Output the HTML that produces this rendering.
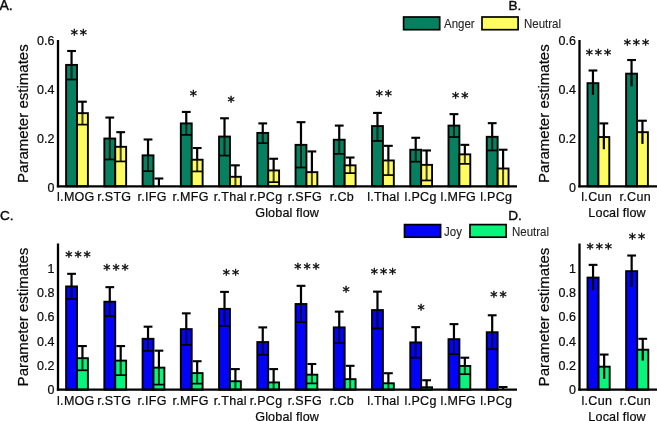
<!DOCTYPE html>
<html><head><meta charset="utf-8"><title>Parameter estimates</title>
<style>
html,body{margin:0;padding:0;background:#fff;}
svg{display:block;will-change:transform}
text{fill:#0a0a0a;stroke:#0a0a0a;stroke-width:0.22px}
</style></head>
<body>
<svg width="657" height="421" viewBox="0 0 657 421">
<rect x="0" y="0" width="657" height="421" fill="#fff"/>
<rect x="66.10" y="64.89" width="10.90" height="121.41" fill="#06805f" stroke="#000" stroke-width="1.9"/>
<line x1="71.55" y1="50.99" x2="71.55" y2="64.89" stroke="#000" stroke-width="2.2" />
<line x1="71.55" y1="64.89" x2="71.55" y2="79.52" stroke="rgba(0,0,0,0.75)" stroke-width="2" />
<line x1="67.15" y1="50.99" x2="75.95" y2="50.99" stroke="#000" stroke-width="2.1" />
<line x1="66.10" y1="79.52" x2="77.00" y2="79.52" stroke="#000" stroke-width="1.7" />
<rect x="77.00" y="113.16" width="10.90" height="73.14" fill="#fffc62" stroke="#000" stroke-width="1.9"/>
<line x1="82.45" y1="101.70" x2="82.45" y2="113.16" stroke="#000" stroke-width="2.2" />
<line x1="82.45" y1="113.16" x2="82.45" y2="124.62" stroke="rgba(0,0,0,0.75)" stroke-width="2" />
<line x1="78.05" y1="101.70" x2="86.85" y2="101.70" stroke="#000" stroke-width="2.1" />
<line x1="77.00" y1="124.62" x2="87.90" y2="124.62" stroke="#000" stroke-width="1.7" />
<rect x="104.34" y="138.52" width="10.90" height="47.78" fill="#06805f" stroke="#000" stroke-width="1.9"/>
<line x1="109.79" y1="117.55" x2="109.79" y2="138.52" stroke="#000" stroke-width="2.2" />
<line x1="109.79" y1="138.52" x2="109.79" y2="159.48" stroke="rgba(0,0,0,0.75)" stroke-width="2" />
<line x1="105.39" y1="117.55" x2="114.19" y2="117.55" stroke="#000" stroke-width="2.1" />
<line x1="104.34" y1="159.48" x2="115.24" y2="159.48" stroke="#000" stroke-width="1.7" />
<rect x="115.24" y="146.80" width="10.90" height="39.50" fill="#fffc62" stroke="#000" stroke-width="1.9"/>
<line x1="120.69" y1="132.18" x2="120.69" y2="146.80" stroke="#000" stroke-width="2.2" />
<line x1="120.69" y1="146.80" x2="120.69" y2="161.43" stroke="rgba(0,0,0,0.75)" stroke-width="2" />
<line x1="116.29" y1="132.18" x2="125.09" y2="132.18" stroke="#000" stroke-width="2.1" />
<line x1="115.24" y1="161.43" x2="126.14" y2="161.43" stroke="#000" stroke-width="1.7" />
<rect x="142.58" y="155.34" width="10.90" height="30.96" fill="#06805f" stroke="#000" stroke-width="1.9"/>
<line x1="148.03" y1="139.49" x2="148.03" y2="155.34" stroke="#000" stroke-width="2.2" />
<line x1="148.03" y1="155.34" x2="148.03" y2="171.18" stroke="rgba(0,0,0,0.75)" stroke-width="2" />
<line x1="143.63" y1="139.49" x2="152.43" y2="139.49" stroke="#000" stroke-width="2.1" />
<line x1="142.58" y1="171.18" x2="153.48" y2="171.18" stroke="#000" stroke-width="1.7" />
<line x1="158.93" y1="178.50" x2="158.93" y2="186.30" stroke="#000" stroke-width="2.2" />
<line x1="154.53" y1="178.50" x2="163.33" y2="178.50" stroke="#000" stroke-width="2.1" />
<rect x="180.82" y="123.40" width="10.90" height="62.90" fill="#06805f" stroke="#000" stroke-width="1.9"/>
<line x1="186.27" y1="111.94" x2="186.27" y2="123.40" stroke="#000" stroke-width="2.2" />
<line x1="186.27" y1="123.40" x2="186.27" y2="134.86" stroke="rgba(0,0,0,0.75)" stroke-width="2" />
<line x1="181.87" y1="111.94" x2="190.67" y2="111.94" stroke="#000" stroke-width="2.1" />
<line x1="180.82" y1="134.86" x2="191.72" y2="134.86" stroke="#000" stroke-width="1.7" />
<rect x="191.72" y="159.73" width="10.90" height="26.57" fill="#fffc62" stroke="#000" stroke-width="1.9"/>
<line x1="197.17" y1="148.02" x2="197.17" y2="159.73" stroke="#000" stroke-width="2.2" />
<line x1="197.17" y1="159.73" x2="197.17" y2="171.43" stroke="rgba(0,0,0,0.75)" stroke-width="2" />
<line x1="192.77" y1="148.02" x2="201.57" y2="148.02" stroke="#000" stroke-width="2.1" />
<line x1="191.72" y1="171.43" x2="202.62" y2="171.43" stroke="#000" stroke-width="1.7" />
<rect x="219.06" y="136.56" width="10.90" height="49.74" fill="#06805f" stroke="#000" stroke-width="1.9"/>
<line x1="224.51" y1="118.28" x2="224.51" y2="136.56" stroke="#000" stroke-width="2.2" />
<line x1="224.51" y1="136.56" x2="224.51" y2="155.58" stroke="rgba(0,0,0,0.75)" stroke-width="2" />
<line x1="220.11" y1="118.28" x2="228.91" y2="118.28" stroke="#000" stroke-width="2.1" />
<line x1="219.06" y1="155.58" x2="229.96" y2="155.58" stroke="#000" stroke-width="1.7" />
<rect x="229.96" y="176.79" width="10.90" height="9.51" fill="#fffc62" stroke="#000" stroke-width="1.9"/>
<line x1="235.41" y1="165.33" x2="235.41" y2="176.79" stroke="#000" stroke-width="2.2" />
<line x1="235.41" y1="176.79" x2="235.41" y2="186.30" stroke="rgba(0,0,0,0.75)" stroke-width="2" />
<line x1="231.01" y1="165.33" x2="239.81" y2="165.33" stroke="#000" stroke-width="2.1" />
<rect x="257.30" y="132.91" width="10.90" height="53.39" fill="#06805f" stroke="#000" stroke-width="1.9"/>
<line x1="262.75" y1="123.40" x2="262.75" y2="132.91" stroke="#000" stroke-width="2.2" />
<line x1="262.75" y1="132.91" x2="262.75" y2="143.15" stroke="rgba(0,0,0,0.75)" stroke-width="2" />
<line x1="258.35" y1="123.40" x2="267.15" y2="123.40" stroke="#000" stroke-width="2.1" />
<line x1="257.30" y1="143.15" x2="268.20" y2="143.15" stroke="#000" stroke-width="1.7" />
<rect x="268.20" y="170.45" width="10.90" height="15.85" fill="#fffc62" stroke="#000" stroke-width="1.9"/>
<line x1="273.65" y1="158.75" x2="273.65" y2="170.45" stroke="#000" stroke-width="2.2" />
<line x1="273.65" y1="170.45" x2="273.65" y2="182.16" stroke="rgba(0,0,0,0.75)" stroke-width="2" />
<line x1="269.25" y1="158.75" x2="278.05" y2="158.75" stroke="#000" stroke-width="2.1" />
<line x1="268.20" y1="182.16" x2="279.10" y2="182.16" stroke="#000" stroke-width="1.7" />
<rect x="295.54" y="144.85" width="10.90" height="41.45" fill="#06805f" stroke="#000" stroke-width="1.9"/>
<line x1="300.99" y1="122.18" x2="300.99" y2="144.85" stroke="#000" stroke-width="2.2" />
<line x1="300.99" y1="144.85" x2="300.99" y2="167.53" stroke="rgba(0,0,0,0.75)" stroke-width="2" />
<line x1="296.59" y1="122.18" x2="305.39" y2="122.18" stroke="#000" stroke-width="2.1" />
<line x1="295.54" y1="167.53" x2="306.44" y2="167.53" stroke="#000" stroke-width="1.7" />
<rect x="306.44" y="172.16" width="10.90" height="14.14" fill="#fffc62" stroke="#000" stroke-width="1.9"/>
<line x1="311.89" y1="151.44" x2="311.89" y2="172.16" stroke="#000" stroke-width="2.2" />
<line x1="311.89" y1="172.16" x2="311.89" y2="186.30" stroke="rgba(0,0,0,0.75)" stroke-width="2" />
<line x1="307.49" y1="151.44" x2="316.29" y2="151.44" stroke="#000" stroke-width="2.1" />
<rect x="333.78" y="139.73" width="10.90" height="46.57" fill="#06805f" stroke="#000" stroke-width="1.9"/>
<line x1="339.23" y1="125.59" x2="339.23" y2="139.73" stroke="#000" stroke-width="2.2" />
<line x1="339.23" y1="139.73" x2="339.23" y2="153.87" stroke="rgba(0,0,0,0.75)" stroke-width="2" />
<line x1="334.83" y1="125.59" x2="343.63" y2="125.59" stroke="#000" stroke-width="2.1" />
<line x1="333.78" y1="153.87" x2="344.68" y2="153.87" stroke="#000" stroke-width="1.7" />
<rect x="344.68" y="165.33" width="10.90" height="20.97" fill="#fffc62" stroke="#000" stroke-width="1.9"/>
<line x1="350.13" y1="157.53" x2="350.13" y2="165.33" stroke="#000" stroke-width="2.2" />
<line x1="350.13" y1="165.33" x2="350.13" y2="173.13" stroke="rgba(0,0,0,0.75)" stroke-width="2" />
<line x1="345.73" y1="157.53" x2="354.53" y2="157.53" stroke="#000" stroke-width="2.1" />
<line x1="344.68" y1="173.13" x2="355.58" y2="173.13" stroke="#000" stroke-width="1.7" />
<rect x="372.02" y="126.08" width="10.90" height="60.22" fill="#06805f" stroke="#000" stroke-width="1.9"/>
<line x1="377.47" y1="112.92" x2="377.47" y2="126.08" stroke="#000" stroke-width="2.2" />
<line x1="377.47" y1="126.08" x2="377.47" y2="140.95" stroke="rgba(0,0,0,0.75)" stroke-width="2" />
<line x1="373.07" y1="112.92" x2="381.87" y2="112.92" stroke="#000" stroke-width="2.1" />
<line x1="372.02" y1="140.95" x2="382.92" y2="140.95" stroke="#000" stroke-width="1.7" />
<rect x="382.92" y="160.46" width="10.90" height="25.84" fill="#fffc62" stroke="#000" stroke-width="1.9"/>
<line x1="388.37" y1="145.83" x2="388.37" y2="160.46" stroke="#000" stroke-width="2.2" />
<line x1="388.37" y1="160.46" x2="388.37" y2="175.09" stroke="rgba(0,0,0,0.75)" stroke-width="2" />
<line x1="383.97" y1="145.83" x2="392.77" y2="145.83" stroke="#000" stroke-width="2.1" />
<line x1="382.92" y1="175.09" x2="393.82" y2="175.09" stroke="#000" stroke-width="1.7" />
<rect x="410.26" y="149.73" width="10.90" height="36.57" fill="#06805f" stroke="#000" stroke-width="1.9"/>
<line x1="415.71" y1="137.78" x2="415.71" y2="149.73" stroke="#000" stroke-width="2.2" />
<line x1="415.71" y1="149.73" x2="415.71" y2="161.68" stroke="rgba(0,0,0,0.75)" stroke-width="2" />
<line x1="411.31" y1="137.78" x2="420.11" y2="137.78" stroke="#000" stroke-width="2.1" />
<line x1="410.26" y1="161.68" x2="421.16" y2="161.68" stroke="#000" stroke-width="1.7" />
<rect x="421.16" y="164.85" width="10.90" height="21.45" fill="#fffc62" stroke="#000" stroke-width="1.9"/>
<line x1="426.61" y1="150.46" x2="426.61" y2="164.85" stroke="#000" stroke-width="2.2" />
<line x1="426.61" y1="164.85" x2="426.61" y2="180.45" stroke="rgba(0,0,0,0.75)" stroke-width="2" />
<line x1="422.21" y1="150.46" x2="431.01" y2="150.46" stroke="#000" stroke-width="2.1" />
<line x1="421.16" y1="180.45" x2="432.06" y2="180.45" stroke="#000" stroke-width="1.7" />
<rect x="448.50" y="125.59" width="10.90" height="60.71" fill="#06805f" stroke="#000" stroke-width="1.9"/>
<line x1="453.95" y1="114.14" x2="453.95" y2="125.59" stroke="#000" stroke-width="2.2" />
<line x1="453.95" y1="125.59" x2="453.95" y2="137.05" stroke="rgba(0,0,0,0.75)" stroke-width="2" />
<line x1="449.55" y1="114.14" x2="458.35" y2="114.14" stroke="#000" stroke-width="2.1" />
<line x1="448.50" y1="137.05" x2="459.40" y2="137.05" stroke="#000" stroke-width="1.7" />
<rect x="459.40" y="154.36" width="10.90" height="31.94" fill="#fffc62" stroke="#000" stroke-width="1.9"/>
<line x1="464.85" y1="144.85" x2="464.85" y2="154.36" stroke="#000" stroke-width="2.2" />
<line x1="464.85" y1="154.36" x2="464.85" y2="163.87" stroke="rgba(0,0,0,0.75)" stroke-width="2" />
<line x1="460.45" y1="144.85" x2="469.25" y2="144.85" stroke="#000" stroke-width="2.1" />
<line x1="459.40" y1="163.87" x2="470.30" y2="163.87" stroke="#000" stroke-width="1.7" />
<rect x="486.74" y="136.81" width="10.90" height="49.49" fill="#06805f" stroke="#000" stroke-width="1.9"/>
<line x1="492.19" y1="123.16" x2="492.19" y2="136.81" stroke="#000" stroke-width="2.2" />
<line x1="492.19" y1="136.81" x2="492.19" y2="150.46" stroke="rgba(0,0,0,0.75)" stroke-width="2" />
<line x1="487.79" y1="123.16" x2="496.59" y2="123.16" stroke="#000" stroke-width="2.1" />
<line x1="486.74" y1="150.46" x2="497.64" y2="150.46" stroke="#000" stroke-width="1.7" />
<rect x="497.64" y="168.50" width="10.90" height="17.80" fill="#fffc62" stroke="#000" stroke-width="1.9"/>
<line x1="503.09" y1="149.73" x2="503.09" y2="168.50" stroke="#000" stroke-width="2.2" />
<line x1="503.09" y1="168.50" x2="503.09" y2="186.30" stroke="rgba(0,0,0,0.75)" stroke-width="2" />
<line x1="498.69" y1="149.73" x2="507.49" y2="149.73" stroke="#000" stroke-width="2.1" />
<line x1="58.00" y1="40.00" x2="58.00" y2="187.30" stroke="#000" stroke-width="2.3" />
<line x1="56.85" y1="186.30" x2="517.00" y2="186.30" stroke="#000" stroke-width="2.3" />
<text x="54.50" y="45.22" font-size="12.5" text-anchor="end" font-family='"Liberation Sans", sans-serif' >0.6</text>
<text x="54.50" y="93.98" font-size="12.5" text-anchor="end" font-family='"Liberation Sans", sans-serif' >0.4</text>
<text x="54.50" y="142.74" font-size="12.5" text-anchor="end" font-family='"Liberation Sans", sans-serif' >0.2</text>
<text x="54.50" y="191.50" font-size="12.5" text-anchor="end" font-family='"Liberation Sans", sans-serif' >0</text>
<text x="75.85" y="201.10" font-size="12.5" text-anchor="middle" font-family='"Liberation Sans", sans-serif' letter-spacing="0.3">l.MOG</text>
<text x="114.29" y="201.10" font-size="12.5" text-anchor="middle" font-family='"Liberation Sans", sans-serif' letter-spacing="0.3">r.STG</text>
<text x="152.13" y="201.10" font-size="12.5" text-anchor="middle" font-family='"Liberation Sans", sans-serif' letter-spacing="0.3">r.IFG</text>
<text x="190.57" y="201.10" font-size="12.5" text-anchor="middle" font-family='"Liberation Sans", sans-serif' letter-spacing="0.3">r.MFG</text>
<text x="230.31" y="201.10" font-size="12.5" text-anchor="middle" font-family='"Liberation Sans", sans-serif' letter-spacing="0.3">r.Thal</text>
<text x="266.05" y="201.10" font-size="12.5" text-anchor="middle" font-family='"Liberation Sans", sans-serif' letter-spacing="0.3">r.PCg</text>
<text x="304.89" y="201.10" font-size="12.5" text-anchor="middle" font-family='"Liberation Sans", sans-serif' letter-spacing="0.3">r.SFG</text>
<text x="341.93" y="201.10" font-size="12.5" text-anchor="middle" font-family='"Liberation Sans", sans-serif' letter-spacing="0.3">r.Cb</text>
<text x="383.37" y="201.10" font-size="12.5" text-anchor="middle" font-family='"Liberation Sans", sans-serif' letter-spacing="0.3">l.Thal</text>
<text x="420.61" y="201.10" font-size="12.5" text-anchor="middle" font-family='"Liberation Sans", sans-serif' letter-spacing="0.3">l.PCg</text>
<text x="458.35" y="201.10" font-size="12.5" text-anchor="middle" font-family='"Liberation Sans", sans-serif' letter-spacing="0.3">l.MFG</text>
<text x="496.29" y="201.10" font-size="12.5" text-anchor="middle" font-family='"Liberation Sans", sans-serif' letter-spacing="0.3">l.PCg</text>
<text transform="translate(28.00,113.60) rotate(-90)" font-size="15.04" text-anchor="middle" font-family='"Liberation Sans", sans-serif'>Parameter estimates</text>
<text x="287.17" y="217.30" font-size="12.6" text-anchor="middle" font-family='"Liberation Sans", sans-serif' letter-spacing="0.14">Global flow</text>
<text x="79.77" y="39.30" font-size="14.4" text-anchor="middle" font-family='"DejaVu Sans", sans-serif' letter-spacing="1.93" style="stroke-width:0.45px">**</text>
<text x="194.27" y="100.00" font-size="14.4" text-anchor="middle" font-family='"DejaVu Sans", sans-serif' letter-spacing="1.93" style="stroke-width:0.45px">*</text>
<text x="232.06" y="105.60" font-size="14.4" text-anchor="middle" font-family='"DejaVu Sans", sans-serif' letter-spacing="1.93" style="stroke-width:0.45px">*</text>
<text x="384.86" y="100.00" font-size="14.4" text-anchor="middle" font-family='"DejaVu Sans", sans-serif' letter-spacing="1.93" style="stroke-width:0.45px">**</text>
<text x="461.16" y="101.50" font-size="14.4" text-anchor="middle" font-family='"DejaVu Sans", sans-serif' letter-spacing="1.93" style="stroke-width:0.45px">**</text>
<rect x="587.50" y="83.17" width="10.90" height="103.13" fill="#06805f" stroke="#000" stroke-width="1.9"/>
<line x1="592.95" y1="70.50" x2="592.95" y2="94.88" stroke="#000" stroke-width="2.2" />
<line x1="588.55" y1="70.50" x2="597.35" y2="70.50" stroke="#000" stroke-width="2.1" />
<rect x="598.40" y="137.05" width="10.90" height="49.25" fill="#fffc62" stroke="#000" stroke-width="1.9"/>
<line x1="603.85" y1="123.40" x2="603.85" y2="149.24" stroke="#000" stroke-width="2.2" />
<line x1="599.45" y1="123.40" x2="608.25" y2="123.40" stroke="#000" stroke-width="2.1" />
<rect x="626.10" y="73.66" width="10.90" height="112.64" fill="#06805f" stroke="#000" stroke-width="1.9"/>
<line x1="631.55" y1="60.01" x2="631.55" y2="86.34" stroke="#000" stroke-width="2.2" />
<line x1="627.15" y1="60.01" x2="635.95" y2="60.01" stroke="#000" stroke-width="2.1" />
<rect x="637.00" y="132.18" width="10.90" height="54.12" fill="#fffc62" stroke="#000" stroke-width="1.9"/>
<line x1="642.45" y1="120.72" x2="642.45" y2="143.88" stroke="#000" stroke-width="2.2" />
<line x1="638.05" y1="120.72" x2="646.85" y2="120.72" stroke="#000" stroke-width="2.1" />
<line x1="579.50" y1="40.00" x2="579.50" y2="187.30" stroke="#000" stroke-width="2.3" />
<line x1="578.35" y1="186.30" x2="657.00" y2="186.30" stroke="#000" stroke-width="2.3" />
<text x="576.00" y="45.22" font-size="12.5" text-anchor="end" font-family='"Liberation Sans", sans-serif' >0.6</text>
<text x="576.00" y="93.98" font-size="12.5" text-anchor="end" font-family='"Liberation Sans", sans-serif' >0.4</text>
<text x="576.00" y="142.74" font-size="12.5" text-anchor="end" font-family='"Liberation Sans", sans-serif' >0.2</text>
<text x="576.00" y="191.50" font-size="12.5" text-anchor="end" font-family='"Liberation Sans", sans-serif' >0</text>
<text x="596.65" y="201.10" font-size="12.5" text-anchor="middle" font-family='"Liberation Sans", sans-serif' letter-spacing="0.3">l.Cun</text>
<text x="635.25" y="201.10" font-size="12.5" text-anchor="middle" font-family='"Liberation Sans", sans-serif' letter-spacing="0.3">r.Cun</text>
<text transform="translate(548.60,113.60) rotate(-90)" font-size="15.04" text-anchor="middle" font-family='"Liberation Sans", sans-serif'>Parameter estimates</text>
<text x="617.07" y="217.30" font-size="12.6" text-anchor="middle" font-family='"Liberation Sans", sans-serif' letter-spacing="0.14">Local flow</text>
<text x="599.37" y="58.50" font-size="14.4" text-anchor="middle" font-family='"DejaVu Sans", sans-serif' letter-spacing="1.93" style="stroke-width:0.45px">***</text>
<text x="637.37" y="48.50" font-size="14.4" text-anchor="middle" font-family='"DejaVu Sans", sans-serif' letter-spacing="1.93" style="stroke-width:0.45px">***</text>
<rect x="66.10" y="286.44" width="10.90" height="103.26" fill="#0303f8" stroke="#000" stroke-width="1.9"/>
<line x1="71.55" y1="273.83" x2="71.55" y2="286.44" stroke="#000" stroke-width="2.2" />
<line x1="71.55" y1="286.44" x2="71.55" y2="299.04" stroke="rgba(0,0,0,0.75)" stroke-width="2" />
<line x1="67.15" y1="273.83" x2="75.95" y2="273.83" stroke="#000" stroke-width="2.1" />
<line x1="66.10" y1="299.04" x2="77.00" y2="299.04" stroke="#000" stroke-width="1.7" />
<rect x="77.00" y="358.19" width="10.90" height="31.51" fill="#08f47a" stroke="#000" stroke-width="1.9"/>
<line x1="82.45" y1="346.07" x2="82.45" y2="358.19" stroke="#000" stroke-width="2.2" />
<line x1="82.45" y1="358.19" x2="82.45" y2="370.31" stroke="rgba(0,0,0,0.75)" stroke-width="2" />
<line x1="78.05" y1="346.07" x2="86.85" y2="346.07" stroke="#000" stroke-width="2.1" />
<line x1="77.00" y1="370.31" x2="87.90" y2="370.31" stroke="#000" stroke-width="1.7" />
<rect x="104.34" y="301.71" width="10.90" height="87.99" fill="#0303f8" stroke="#000" stroke-width="1.9"/>
<line x1="109.79" y1="287.16" x2="109.79" y2="301.71" stroke="#000" stroke-width="2.2" />
<line x1="109.79" y1="301.71" x2="109.79" y2="316.25" stroke="rgba(0,0,0,0.75)" stroke-width="2" />
<line x1="105.39" y1="287.16" x2="114.19" y2="287.16" stroke="#000" stroke-width="2.1" />
<line x1="104.34" y1="316.25" x2="115.24" y2="316.25" stroke="#000" stroke-width="1.7" />
<rect x="115.24" y="360.61" width="10.90" height="29.09" fill="#08f47a" stroke="#000" stroke-width="1.9"/>
<line x1="120.69" y1="346.07" x2="120.69" y2="360.61" stroke="#000" stroke-width="2.2" />
<line x1="120.69" y1="360.61" x2="120.69" y2="375.16" stroke="rgba(0,0,0,0.75)" stroke-width="2" />
<line x1="116.29" y1="346.07" x2="125.09" y2="346.07" stroke="#000" stroke-width="2.1" />
<line x1="115.24" y1="375.16" x2="126.14" y2="375.16" stroke="#000" stroke-width="1.7" />
<rect x="142.58" y="338.80" width="10.90" height="50.90" fill="#0303f8" stroke="#000" stroke-width="1.9"/>
<line x1="148.03" y1="326.68" x2="148.03" y2="338.80" stroke="#000" stroke-width="2.2" />
<line x1="148.03" y1="338.80" x2="148.03" y2="350.92" stroke="rgba(0,0,0,0.75)" stroke-width="2" />
<line x1="143.63" y1="326.68" x2="152.43" y2="326.68" stroke="#000" stroke-width="2.1" />
<line x1="142.58" y1="350.92" x2="153.48" y2="350.92" stroke="#000" stroke-width="1.7" />
<rect x="153.48" y="367.64" width="10.90" height="22.06" fill="#08f47a" stroke="#000" stroke-width="1.9"/>
<line x1="158.93" y1="350.67" x2="158.93" y2="367.64" stroke="#000" stroke-width="2.2" />
<line x1="158.93" y1="367.64" x2="158.93" y2="384.61" stroke="rgba(0,0,0,0.75)" stroke-width="2" />
<line x1="154.53" y1="350.67" x2="163.33" y2="350.67" stroke="#000" stroke-width="2.1" />
<line x1="153.48" y1="384.61" x2="164.38" y2="384.61" stroke="#000" stroke-width="1.7" />
<rect x="180.82" y="329.10" width="10.90" height="60.60" fill="#0303f8" stroke="#000" stroke-width="1.9"/>
<line x1="186.27" y1="313.34" x2="186.27" y2="329.10" stroke="#000" stroke-width="2.2" />
<line x1="186.27" y1="329.10" x2="186.27" y2="344.86" stroke="rgba(0,0,0,0.75)" stroke-width="2" />
<line x1="181.87" y1="313.34" x2="190.67" y2="313.34" stroke="#000" stroke-width="2.1" />
<line x1="180.82" y1="344.86" x2="191.72" y2="344.86" stroke="#000" stroke-width="1.7" />
<rect x="191.72" y="373.10" width="10.90" height="16.60" fill="#08f47a" stroke="#000" stroke-width="1.9"/>
<line x1="197.17" y1="361.22" x2="197.17" y2="373.10" stroke="#000" stroke-width="2.2" />
<line x1="197.17" y1="373.10" x2="197.17" y2="383.64" stroke="rgba(0,0,0,0.75)" stroke-width="2" />
<line x1="192.77" y1="361.22" x2="201.57" y2="361.22" stroke="#000" stroke-width="2.1" />
<line x1="191.72" y1="383.64" x2="202.62" y2="383.64" stroke="#000" stroke-width="1.7" />
<rect x="219.06" y="308.86" width="10.90" height="80.84" fill="#0303f8" stroke="#000" stroke-width="1.9"/>
<line x1="224.51" y1="291.89" x2="224.51" y2="308.86" stroke="#000" stroke-width="2.2" />
<line x1="224.51" y1="308.86" x2="224.51" y2="325.83" stroke="rgba(0,0,0,0.75)" stroke-width="2" />
<line x1="220.11" y1="291.89" x2="228.91" y2="291.89" stroke="#000" stroke-width="2.1" />
<line x1="219.06" y1="325.83" x2="229.96" y2="325.83" stroke="#000" stroke-width="1.7" />
<rect x="229.96" y="381.22" width="10.90" height="8.48" fill="#08f47a" stroke="#000" stroke-width="1.9"/>
<line x1="235.41" y1="369.10" x2="235.41" y2="381.22" stroke="#000" stroke-width="2.2" />
<line x1="235.41" y1="381.22" x2="235.41" y2="389.70" stroke="rgba(0,0,0,0.75)" stroke-width="2" />
<line x1="231.01" y1="369.10" x2="239.81" y2="369.10" stroke="#000" stroke-width="2.1" />
<rect x="257.30" y="342.07" width="10.90" height="47.63" fill="#0303f8" stroke="#000" stroke-width="1.9"/>
<line x1="262.75" y1="327.40" x2="262.75" y2="342.07" stroke="#000" stroke-width="2.2" />
<line x1="262.75" y1="342.07" x2="262.75" y2="354.79" stroke="rgba(0,0,0,0.75)" stroke-width="2" />
<line x1="258.35" y1="327.40" x2="267.15" y2="327.40" stroke="#000" stroke-width="2.1" />
<line x1="257.30" y1="354.79" x2="268.20" y2="354.79" stroke="#000" stroke-width="1.7" />
<rect x="268.20" y="382.43" width="10.90" height="7.27" fill="#08f47a" stroke="#000" stroke-width="1.9"/>
<line x1="273.65" y1="369.10" x2="273.65" y2="382.43" stroke="#000" stroke-width="2.2" />
<line x1="273.65" y1="382.43" x2="273.65" y2="389.70" stroke="rgba(0,0,0,0.75)" stroke-width="2" />
<line x1="269.25" y1="369.10" x2="278.05" y2="369.10" stroke="#000" stroke-width="2.1" />
<rect x="295.54" y="304.01" width="10.90" height="85.69" fill="#0303f8" stroke="#000" stroke-width="1.9"/>
<line x1="300.99" y1="285.83" x2="300.99" y2="304.01" stroke="#000" stroke-width="2.2" />
<line x1="300.99" y1="304.01" x2="300.99" y2="322.19" stroke="rgba(0,0,0,0.75)" stroke-width="2" />
<line x1="296.59" y1="285.83" x2="305.39" y2="285.83" stroke="#000" stroke-width="2.1" />
<line x1="295.54" y1="322.19" x2="306.44" y2="322.19" stroke="#000" stroke-width="1.7" />
<rect x="306.44" y="374.67" width="10.90" height="15.03" fill="#08f47a" stroke="#000" stroke-width="1.9"/>
<line x1="311.89" y1="364.01" x2="311.89" y2="374.67" stroke="#000" stroke-width="2.2" />
<line x1="311.89" y1="374.67" x2="311.89" y2="383.40" stroke="rgba(0,0,0,0.75)" stroke-width="2" />
<line x1="307.49" y1="364.01" x2="316.29" y2="364.01" stroke="#000" stroke-width="2.1" />
<line x1="306.44" y1="383.40" x2="317.34" y2="383.40" stroke="#000" stroke-width="1.7" />
<rect x="333.78" y="327.40" width="10.90" height="62.30" fill="#0303f8" stroke="#000" stroke-width="1.9"/>
<line x1="339.23" y1="311.65" x2="339.23" y2="327.40" stroke="#000" stroke-width="2.2" />
<line x1="339.23" y1="327.40" x2="339.23" y2="343.16" stroke="rgba(0,0,0,0.75)" stroke-width="2" />
<line x1="334.83" y1="311.65" x2="343.63" y2="311.65" stroke="#000" stroke-width="2.1" />
<line x1="333.78" y1="343.16" x2="344.68" y2="343.16" stroke="#000" stroke-width="1.7" />
<rect x="344.68" y="379.16" width="10.90" height="10.54" fill="#08f47a" stroke="#000" stroke-width="1.9"/>
<line x1="350.13" y1="365.82" x2="350.13" y2="379.16" stroke="#000" stroke-width="2.2" />
<line x1="350.13" y1="379.16" x2="350.13" y2="389.70" stroke="rgba(0,0,0,0.75)" stroke-width="2" />
<line x1="345.73" y1="365.82" x2="354.53" y2="365.82" stroke="#000" stroke-width="2.1" />
<rect x="372.02" y="310.07" width="10.90" height="79.63" fill="#0303f8" stroke="#000" stroke-width="1.9"/>
<line x1="377.47" y1="291.65" x2="377.47" y2="310.07" stroke="#000" stroke-width="2.2" />
<line x1="377.47" y1="310.07" x2="377.47" y2="328.49" stroke="rgba(0,0,0,0.75)" stroke-width="2" />
<line x1="373.07" y1="291.65" x2="381.87" y2="291.65" stroke="#000" stroke-width="2.1" />
<line x1="372.02" y1="328.49" x2="382.92" y2="328.49" stroke="#000" stroke-width="1.7" />
<rect x="382.92" y="383.28" width="10.90" height="6.42" fill="#08f47a" stroke="#000" stroke-width="1.9"/>
<line x1="388.37" y1="373.22" x2="388.37" y2="383.28" stroke="#000" stroke-width="2.2" />
<line x1="388.37" y1="383.28" x2="388.37" y2="389.70" stroke="rgba(0,0,0,0.75)" stroke-width="2" />
<line x1="383.97" y1="373.22" x2="392.77" y2="373.22" stroke="#000" stroke-width="2.1" />
<rect x="410.26" y="342.43" width="10.90" height="47.27" fill="#0303f8" stroke="#000" stroke-width="1.9"/>
<line x1="415.71" y1="327.16" x2="415.71" y2="342.43" stroke="#000" stroke-width="2.2" />
<line x1="415.71" y1="342.43" x2="415.71" y2="357.70" stroke="rgba(0,0,0,0.75)" stroke-width="2" />
<line x1="411.31" y1="327.16" x2="420.11" y2="327.16" stroke="#000" stroke-width="2.1" />
<line x1="410.26" y1="357.70" x2="421.16" y2="357.70" stroke="#000" stroke-width="1.7" />
<rect x="421.16" y="387.28" width="10.90" height="2.42" fill="#08f47a" stroke="#000" stroke-width="1.9"/>
<line x1="426.61" y1="380.25" x2="426.61" y2="387.28" stroke="#000" stroke-width="2.2" />
<line x1="426.61" y1="387.28" x2="426.61" y2="389.70" stroke="rgba(0,0,0,0.75)" stroke-width="2" />
<line x1="422.21" y1="380.25" x2="431.01" y2="380.25" stroke="#000" stroke-width="2.1" />
<rect x="448.50" y="339.16" width="10.90" height="50.54" fill="#0303f8" stroke="#000" stroke-width="1.9"/>
<line x1="453.95" y1="324.13" x2="453.95" y2="339.16" stroke="#000" stroke-width="2.2" />
<line x1="453.95" y1="339.16" x2="453.95" y2="354.19" stroke="rgba(0,0,0,0.75)" stroke-width="2" />
<line x1="449.55" y1="324.13" x2="458.35" y2="324.13" stroke="#000" stroke-width="2.1" />
<line x1="448.50" y1="354.19" x2="459.40" y2="354.19" stroke="#000" stroke-width="1.7" />
<rect x="459.40" y="365.94" width="10.90" height="23.76" fill="#08f47a" stroke="#000" stroke-width="1.9"/>
<line x1="464.85" y1="357.70" x2="464.85" y2="365.94" stroke="#000" stroke-width="2.2" />
<line x1="464.85" y1="365.94" x2="464.85" y2="374.19" stroke="rgba(0,0,0,0.75)" stroke-width="2" />
<line x1="460.45" y1="357.70" x2="469.25" y2="357.70" stroke="#000" stroke-width="2.1" />
<line x1="459.40" y1="374.19" x2="470.30" y2="374.19" stroke="#000" stroke-width="1.7" />
<rect x="486.74" y="332.25" width="10.90" height="57.45" fill="#0303f8" stroke="#000" stroke-width="1.9"/>
<line x1="492.19" y1="315.28" x2="492.19" y2="332.25" stroke="#000" stroke-width="2.2" />
<line x1="492.19" y1="332.25" x2="492.19" y2="349.22" stroke="rgba(0,0,0,0.75)" stroke-width="2" />
<line x1="487.79" y1="315.28" x2="496.59" y2="315.28" stroke="#000" stroke-width="2.1" />
<line x1="486.74" y1="349.22" x2="497.64" y2="349.22" stroke="#000" stroke-width="1.7" />
<line x1="503.09" y1="387.03" x2="503.09" y2="389.70" stroke="#000" stroke-width="2.2" />
<line x1="498.69" y1="387.03" x2="507.49" y2="387.03" stroke="#000" stroke-width="2.1" />
<line x1="58.00" y1="243.50" x2="58.00" y2="390.70" stroke="#000" stroke-width="2.3" />
<line x1="56.85" y1="389.70" x2="517.00" y2="389.70" stroke="#000" stroke-width="2.3" />
<text x="54.50" y="272.80" font-size="12.5" text-anchor="end" font-family='"Liberation Sans", sans-serif' >1</text>
<text x="54.50" y="297.04" font-size="12.5" text-anchor="end" font-family='"Liberation Sans", sans-serif' >0.8</text>
<text x="54.50" y="321.28" font-size="12.5" text-anchor="end" font-family='"Liberation Sans", sans-serif' >0.6</text>
<text x="54.50" y="345.52" font-size="12.5" text-anchor="end" font-family='"Liberation Sans", sans-serif' >0.4</text>
<text x="54.50" y="369.76" font-size="12.5" text-anchor="end" font-family='"Liberation Sans", sans-serif' >0.2</text>
<text x="54.50" y="394.00" font-size="12.5" text-anchor="end" font-family='"Liberation Sans", sans-serif' >0</text>
<text x="75.85" y="404.70" font-size="12.5" text-anchor="middle" font-family='"Liberation Sans", sans-serif' letter-spacing="0.3">l.MOG</text>
<text x="114.29" y="404.70" font-size="12.5" text-anchor="middle" font-family='"Liberation Sans", sans-serif' letter-spacing="0.3">r.STG</text>
<text x="152.13" y="404.70" font-size="12.5" text-anchor="middle" font-family='"Liberation Sans", sans-serif' letter-spacing="0.3">r.IFG</text>
<text x="190.57" y="404.70" font-size="12.5" text-anchor="middle" font-family='"Liberation Sans", sans-serif' letter-spacing="0.3">r.MFG</text>
<text x="230.31" y="404.70" font-size="12.5" text-anchor="middle" font-family='"Liberation Sans", sans-serif' letter-spacing="0.3">r.Thal</text>
<text x="266.05" y="404.70" font-size="12.5" text-anchor="middle" font-family='"Liberation Sans", sans-serif' letter-spacing="0.3">r.PCg</text>
<text x="304.89" y="404.70" font-size="12.5" text-anchor="middle" font-family='"Liberation Sans", sans-serif' letter-spacing="0.3">r.SFG</text>
<text x="341.93" y="404.70" font-size="12.5" text-anchor="middle" font-family='"Liberation Sans", sans-serif' letter-spacing="0.3">r.Cb</text>
<text x="383.37" y="404.70" font-size="12.5" text-anchor="middle" font-family='"Liberation Sans", sans-serif' letter-spacing="0.3">l.Thal</text>
<text x="420.61" y="404.70" font-size="12.5" text-anchor="middle" font-family='"Liberation Sans", sans-serif' letter-spacing="0.3">l.PCg</text>
<text x="458.35" y="404.70" font-size="12.5" text-anchor="middle" font-family='"Liberation Sans", sans-serif' letter-spacing="0.3">l.MFG</text>
<text x="496.29" y="404.70" font-size="12.5" text-anchor="middle" font-family='"Liberation Sans", sans-serif' letter-spacing="0.3">l.PCg</text>
<text transform="translate(28.00,317.05) rotate(-90)" font-size="15.04" text-anchor="middle" font-family='"Liberation Sans", sans-serif'>Parameter estimates</text>
<text x="287.17" y="421.00" font-size="12.6" text-anchor="middle" font-family='"Liberation Sans", sans-serif' letter-spacing="0.14">Global flow</text>
<text x="78.97" y="261.40" font-size="14.4" text-anchor="middle" font-family='"DejaVu Sans", sans-serif' letter-spacing="1.93" style="stroke-width:0.45px">***</text>
<text x="116.97" y="274.40" font-size="14.4" text-anchor="middle" font-family='"DejaVu Sans", sans-serif' letter-spacing="1.93" style="stroke-width:0.45px">***</text>
<text x="231.97" y="279.40" font-size="14.4" text-anchor="middle" font-family='"DejaVu Sans", sans-serif' letter-spacing="1.93" style="stroke-width:0.45px">**</text>
<text x="307.96" y="273.00" font-size="14.4" text-anchor="middle" font-family='"DejaVu Sans", sans-serif' letter-spacing="1.93" style="stroke-width:0.45px">***</text>
<text x="346.96" y="295.50" font-size="14.4" text-anchor="middle" font-family='"DejaVu Sans", sans-serif' letter-spacing="1.93" style="stroke-width:0.45px">*</text>
<text x="384.46" y="278.40" font-size="14.4" text-anchor="middle" font-family='"DejaVu Sans", sans-serif' letter-spacing="1.93" style="stroke-width:0.45px">***</text>
<text x="421.96" y="313.50" font-size="14.4" text-anchor="middle" font-family='"DejaVu Sans", sans-serif' letter-spacing="1.93" style="stroke-width:0.45px">*</text>
<text x="499.46" y="301.00" font-size="14.4" text-anchor="middle" font-family='"DejaVu Sans", sans-serif' letter-spacing="1.93" style="stroke-width:0.45px">**</text>
<rect x="587.50" y="277.59" width="11.10" height="112.11" fill="#0303f8" stroke="#000" stroke-width="1.9"/>
<line x1="593.05" y1="264.86" x2="593.05" y2="290.32" stroke="#000" stroke-width="2.2" />
<line x1="588.65" y1="264.86" x2="597.45" y2="264.86" stroke="#000" stroke-width="2.1" />
<rect x="598.60" y="366.67" width="11.10" height="23.03" fill="#08f47a" stroke="#000" stroke-width="1.9"/>
<line x1="604.15" y1="354.55" x2="604.15" y2="378.79" stroke="#000" stroke-width="2.2" />
<line x1="599.75" y1="354.55" x2="608.55" y2="354.55" stroke="#000" stroke-width="2.1" />
<rect x="626.10" y="271.17" width="11.10" height="118.53" fill="#0303f8" stroke="#000" stroke-width="1.9"/>
<line x1="631.65" y1="255.53" x2="631.65" y2="286.92" stroke="#000" stroke-width="2.2" />
<line x1="627.25" y1="255.53" x2="636.05" y2="255.53" stroke="#000" stroke-width="2.1" />
<rect x="637.20" y="349.70" width="11.10" height="40.00" fill="#08f47a" stroke="#000" stroke-width="1.9"/>
<line x1="642.75" y1="338.80" x2="642.75" y2="360.61" stroke="#000" stroke-width="2.2" />
<line x1="638.35" y1="338.80" x2="647.15" y2="338.80" stroke="#000" stroke-width="2.1" />
<line x1="579.50" y1="243.50" x2="579.50" y2="390.70" stroke="#000" stroke-width="2.3" />
<line x1="578.35" y1="389.70" x2="657.00" y2="389.70" stroke="#000" stroke-width="2.3" />
<text x="576.00" y="272.80" font-size="12.5" text-anchor="end" font-family='"Liberation Sans", sans-serif' >1</text>
<text x="576.00" y="297.04" font-size="12.5" text-anchor="end" font-family='"Liberation Sans", sans-serif' >0.8</text>
<text x="576.00" y="321.28" font-size="12.5" text-anchor="end" font-family='"Liberation Sans", sans-serif' >0.6</text>
<text x="576.00" y="345.52" font-size="12.5" text-anchor="end" font-family='"Liberation Sans", sans-serif' >0.4</text>
<text x="576.00" y="369.76" font-size="12.5" text-anchor="end" font-family='"Liberation Sans", sans-serif' >0.2</text>
<text x="576.00" y="394.00" font-size="12.5" text-anchor="end" font-family='"Liberation Sans", sans-serif' >0</text>
<text x="596.85" y="404.70" font-size="12.5" text-anchor="middle" font-family='"Liberation Sans", sans-serif' letter-spacing="0.3">l.Cun</text>
<text x="635.45" y="404.70" font-size="12.5" text-anchor="middle" font-family='"Liberation Sans", sans-serif' letter-spacing="0.3">r.Cun</text>
<text transform="translate(548.60,317.05) rotate(-90)" font-size="15.04" text-anchor="middle" font-family='"Liberation Sans", sans-serif'>Parameter estimates</text>
<text x="617.07" y="421.00" font-size="12.6" text-anchor="middle" font-family='"Liberation Sans", sans-serif' letter-spacing="0.14">Local flow</text>
<text x="600.26" y="253.00" font-size="14.4" text-anchor="middle" font-family='"DejaVu Sans", sans-serif' letter-spacing="1.93" style="stroke-width:0.45px">***</text>
<text x="637.97" y="243.00" font-size="14.4" text-anchor="middle" font-family='"DejaVu Sans", sans-serif' letter-spacing="1.93" style="stroke-width:0.45px">**</text>
<text x="-0.60" y="9.75" font-size="14" text-anchor="start" font-family='"Liberation Sans", sans-serif' style="stroke-width:0.4px">A.</text>
<text x="508.40" y="9.75" font-size="13.6" text-anchor="start" font-family='"Liberation Sans", sans-serif' style="stroke-width:0.4px">B.</text>
<text x="0.00" y="219.90" font-size="13.6" text-anchor="start" font-family='"Liberation Sans", sans-serif' style="stroke-width:0.4px">C.</text>
<text x="508.30" y="219.90" font-size="13.6" text-anchor="start" font-family='"Liberation Sans", sans-serif' style="stroke-width:0.4px">D.</text>
<rect x="403.60" y="17.00" width="36.10" height="12.70" fill="#06805f" stroke="#000" stroke-width="1.7"/>
<text transform="translate(444.00,28.10) scale(0.905,1)" font-size="12.7" font-family='"Liberation Sans", sans-serif' style="fill:#262626;stroke:#262626;stroke-width:0.12px">Anger</text>
<rect x="482.00" y="17.00" width="36.10" height="12.70" fill="#fffc62" stroke="#000" stroke-width="1.7"/>
<text transform="translate(524.00,28.10) scale(0.905,1)" font-size="12.7" font-family='"Liberation Sans", sans-serif' style="fill:#262626;stroke:#262626;stroke-width:0.12px">Neutral</text>
<rect x="404.50" y="224.60" width="36.10" height="12.60" fill="#0303f8" stroke="#000" stroke-width="1.7"/>
<text transform="translate(444.00,235.60) scale(0.905,1)" font-size="12.7" font-family='"Liberation Sans", sans-serif' style="fill:#262626;stroke:#262626;stroke-width:0.12px">Joy</text>
<rect x="470.00" y="224.60" width="36.10" height="12.60" fill="#08f47a" stroke="#000" stroke-width="1.7"/>
<text transform="translate(512.00,235.60) scale(0.905,1)" font-size="12.7" font-family='"Liberation Sans", sans-serif' style="fill:#262626;stroke:#262626;stroke-width:0.12px">Neutral</text>
</svg>
</body></html>
